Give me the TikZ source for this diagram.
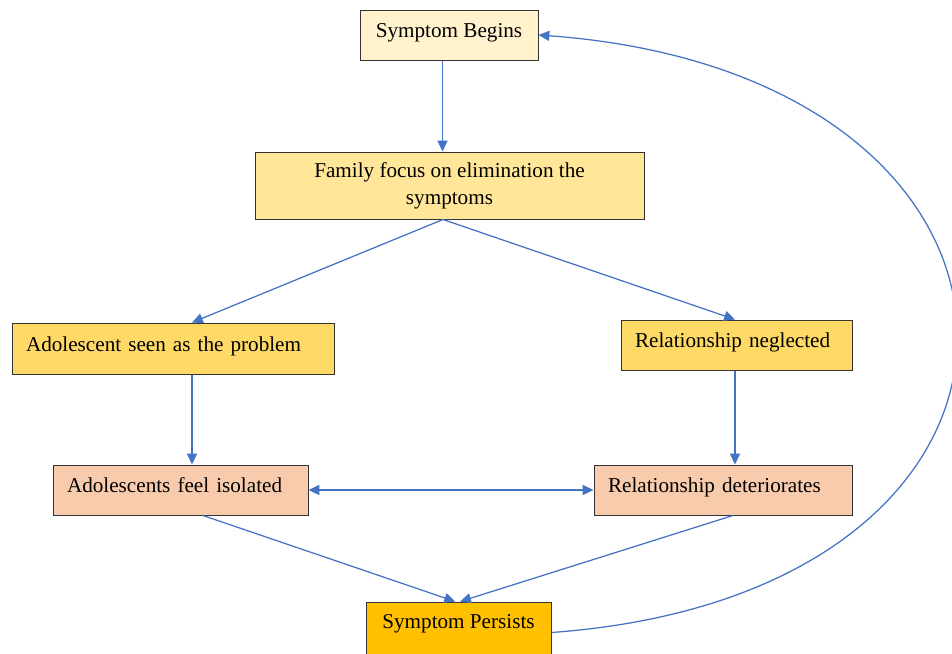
\documentclass[tikz,border=0pt]{standalone}
\usepackage{fontspec}
\setmainfont{Liberation Serif}
\usetikzlibrary{arrows.meta}
\definecolor{cream}{HTML}{FFF2CC}
\definecolor{lightgold}{HTML}{FFE699}
\definecolor{gold}{HTML}{FFD966}
\definecolor{peach}{HTML}{F8CBAD}
\definecolor{amber}{HTML}{FFC000}
\definecolor{arrowblue}{HTML}{4472C4}
\begin{document}
\begin{tikzpicture}[x=0.6pt,y=-0.6pt,
 box/.style={rectangle,draw=black!80,line width=0.6pt,inner sep=0pt,font=\fontsize{12.7}{16.2}\selectfont},
 lbox/.style={box,align=left,inner xsep=8.4pt,text height=9pt,text depth=6pt,minimum height=30pt},
 arr/.style={draw=arrowblue,line width=0.75pt,-{Triangle[length=6.5pt,width=6pt]}}]
\useasboundingbox (0,0) rectangle (952,653);
\node [box,fill=cream,minimum width=106.8pt,minimum height=30pt,text height=9pt,text depth=6pt] (sb) at (449,35) {Symptom Begins};
\node [box,fill=lightgold,align=center,minimum width=233.4pt,minimum height=40.2pt] (ff) at (449.5,185.5) {Family focus on elimination the\\symptoms};
\node [lbox,fill=gold,text width=176.4pt,minimum height=30.6pt] (asp) at (173,348.5) {Adolescent seen as the problem};
\node [lbox,fill=gold,text width=121.8pt] (rn) at (736.5,345) {Relationship neglected};
\node [lbox,fill=peach,text width=136.2pt] (afi) at (180.5,490) {Adolescents feel isolated};
\node [lbox,fill=peach,text width=138pt] (rd) at (723,490) {Relationship deteriorates};
\node [box,fill=amber,minimum width=111pt,minimum height=31.8pt,text height=9pt,text depth=9pt] (sp) at (458.5,628.5) {Symptom Persists};

\coordinate (k0) at ([xshift=-3.9pt]sb.south);
\coordinate (k1) at ([xshift=11.4pt]asp.south);
\coordinate (k2) at ([xshift=-0.9pt]rn.south);
\draw [arr] (k0) -- (k0 |- ff.north);
\draw [arr] ([xshift=-3.9pt]ff.south) -- ([xshift=11.4pt]asp.north);
\draw [arr] ([xshift=-3.9pt]ff.south) -- ([xshift=-0.9pt]rn.north);
\draw [arr] (k1) -- (k1 |- afi.north);
\draw [arr] (k2) -- (k2 |- rd.north);
\draw [arr,{Triangle[length=6.5pt,width=6pt]}-{Triangle[length=6.5pt,width=6pt]}] (afi.east) -- (rd.west);
\draw [arr] ([xshift=13.5pt]afi.south) -- ([xshift=-2pt]sp.north);
\draw [arr] ([xshift=6pt]rd.south) -- ([xshift=1pt]sp.north);
\draw [arr] ([yshift=-2.4pt]sp.east) .. controls +(548,-40) and +(548,40) .. (sb.east);
\end{tikzpicture}
\end{document}
